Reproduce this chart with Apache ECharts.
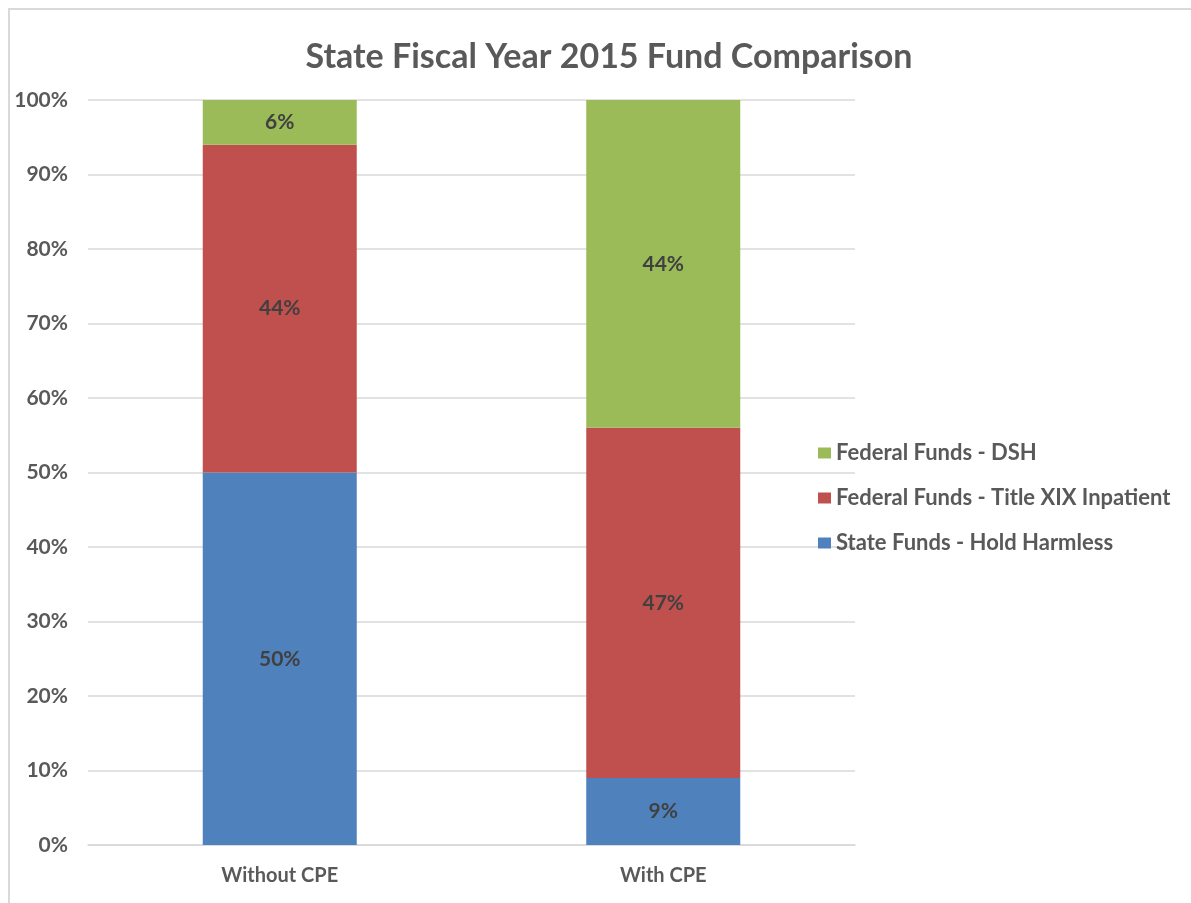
<!DOCTYPE html>
<html>
<head>
<meta charset="utf-8">
<script src="https://cdn.jsdelivr.net/npm/echarts@6/dist/echarts.min.js"></script>
<style>
  html, body { margin: 0; padding: 0; background: #fff; }
  #chart { width: 1191px; height: 903px; position: relative; }
  #frame { position: absolute; left: 8px; top: 8px; right: 0; bottom: 0;
           border-top: 2px solid #d9d9d9; border-left: 2px solid #d9d9d9; pointer-events: none; }
</style>
</head>
<body>
<div id="chart"></div>
<div id="frame"></div>
<script>
// values (percent of total)
const categories = ['Without CPE', 'With CPE']
const stateHoldHarmless = [50, 9]
const federalTitleXIX = [44, 47]
const federalDSH = [6, 44]
const legendOrder = ['Federal Funds - DSH', 'Federal Funds - Title XIX Inpatient', 'State Funds - Hold Harmless']

const font = 'Lato, "Open Sans", sans-serif'
const labelStyle = {
  show: true,
  position: 'inside',
  formatter: p => p.value + '%',
  color: '#404040',
  fontFamily: font,
  fontWeight: 'bold',
  fontSize: 21
}

function makeSeries(name, data, color) {
  return {
    name: name,
    type: 'bar',
    stack: 'total',
    barWidth: 154,
    data: data,
    itemStyle: { color: color },
    label: labelStyle
  }
}

const myChart = echarts.init(document.getElementById('chart'))
myChart.setOption({
  animation: false,
  title: {
    text: 'State Fiscal Year 2015 Fund Comparison',
    left: 604,
    textAlign: 'center',
    top: 35,
    textStyle: { color: '#595959', fontFamily: font, fontWeight: 'bold', fontSize: 34 }
  },
  legend: {
    orient: 'vertical',
    left: 813,
    top: 437,
    itemWidth: 13,
    itemHeight: 11,
    itemGap: 23,
    icon: 'rect',
    data: legendOrder,
    textStyle: { color: '#595959', fontFamily: font, fontWeight: 'bold', fontSize: 22, lineHeight: 22 }
  },
  grid: { left: 88, right: 336, top: 100, bottom: 58, containLabel: false },
  xAxis: {
    type: 'category',
    data: categories,
    axisLine: { lineStyle: { color: '#d9d9d9', width: 1.5 } },
    axisTick: { show: false },
    axisLabel: { color: '#595959', fontFamily: font, fontWeight: 'bold', fontSize: 20, margin: 21 }
  },
  yAxis: {
    type: 'value',
    min: 0,
    max: 100,
    interval: 10,
    axisLine: { show: false },
    axisTick: { show: false },
    splitLine: { lineStyle: { color: '#d9d9d9', width: 1.5 } },
    axisLabel: { color: '#595959', fontFamily: font, fontWeight: 'bold', fontSize: 21, margin: 20, formatter: '{value}%' }
  },
  series: [
    makeSeries('State Funds - Hold Harmless', stateHoldHarmless, '#4F81BD'),
    makeSeries('Federal Funds - Title XIX Inpatient', federalTitleXIX, '#C0504D'),
    makeSeries('Federal Funds - DSH', federalDSH, '#9BBB59')
  ]
})
</script>
</body>
</html>
